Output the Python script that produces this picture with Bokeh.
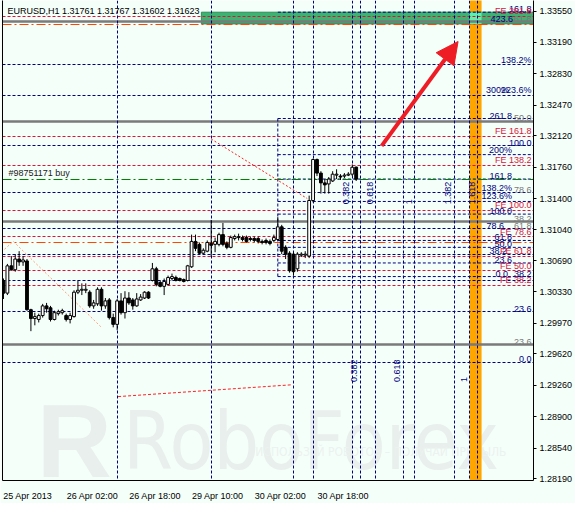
import math
from bokeh.plotting import figure
from bokeh.models import (ColumnDataSource, FixedTicker, LinearAxis, Range1d,
                          Arrow, NormalHead, Label, PrintfTickFormatter)
from bokeh.embed import file_html
from bokeh.resources import INLINE
from bokeh.core.properties import value

# ---------------- data ----------------
opens = [1.30461, 1.30316, 1.30629, 1.30584, 1.30707, 1.30674, 1.30685, 1.30126, 1.30025, 1.30014,
         1.30059, 1.30170, 1.30148, 1.30014, 1.30081, 1.30092, 1.30059, 1.30014, 1.30047, 1.30327,
         1.30349, 1.30349, 1.30327, 1.30170, 1.30193, 1.30360, 1.30170, 1.30238, 1.30036, 1.29958,
         1.30227, 1.30092, 1.30260, 1.30238, 1.30170, 1.30238, 1.30260, 1.30327, 1.30461, 1.30595,
         1.30439, 1.30394, 1.30416, 1.30484, 1.30495, 1.30484, 1.30472, 1.30461, 1.30618, 1.30909,
         1.30875, 1.30774, 1.30797, 1.30886, 1.30875, 1.30875, 1.30987, 1.30886, 1.30841, 1.30942,
         1.30953, 1.30953, 1.30953, 1.30942, 1.30942, 1.30942, 1.30909, 1.30920, 1.30909, 1.30920,
         1.30931, 1.31076, 1.30841, 1.30774, 1.30763, 1.30595, 1.30752, 1.30752, 1.30741, 1.31378,
         1.31848, 1.31692, 1.31580, 1.31568, 1.31602, 1.31669, 1.31658, 1.31658, 1.31669, 1.31680,
         1.31761]
highs = [1.30484, 1.30651, 1.30741, 1.30763, 1.30797, 1.30741, 1.30707, 1.30137, 1.30092, 1.30081,
         1.30193, 1.30204, 1.30170, 1.30115, 1.30126, 1.30137, 1.30081, 1.30092, 1.30349, 1.30461,
         1.30428, 1.30428, 1.30349, 1.30238, 1.30383, 1.30383, 1.30260, 1.30260, 1.30081, 1.30249,
         1.30316, 1.30338, 1.30327, 1.30260, 1.30316, 1.30305, 1.30338, 1.30338, 1.30662, 1.30618,
         1.30461, 1.30484, 1.30517, 1.30540, 1.30517, 1.30495, 1.30484, 1.30640, 1.30987, 1.30987,
         1.30897, 1.30830, 1.30920, 1.31155, 1.30953, 1.31009, 1.31121, 1.30909, 1.30976, 1.30987,
         1.30998, 1.30976, 1.30976, 1.30964, 1.30964, 1.30964, 1.30931, 1.30942, 1.30931, 1.30987,
         1.31188, 1.31099, 1.30864, 1.30797, 1.30785, 1.30785, 1.30785, 1.30797, 1.31434, 1.31859,
         1.31859, 1.31714, 1.31624, 1.31647, 1.31714, 1.31736, 1.31680, 1.31692, 1.31703, 1.31792,
         1.31767]
lows = [1.30249, 1.30294, 1.30573, 1.30562, 1.30629, 1.30629, 1.30115, 1.29880, 1.29947, 1.29980,
        1.30036, 1.30092, 1.29991, 1.30003, 1.30059, 1.30070, 1.29991, 1.29969, 1.30036, 1.30305,
        1.30294, 1.30316, 1.30148, 1.30137, 1.30170, 1.30115, 1.30137, 1.30014, 1.29924, 1.29891,
        1.30070, 1.30025, 1.30182, 1.30126, 1.30159, 1.30227, 1.30249, 1.30249, 1.30450, 1.30394,
        1.30383, 1.30294, 1.30405, 1.30461, 1.30450, 1.30450, 1.30439, 1.30450, 1.30606, 1.30797,
        1.30763, 1.30763, 1.30785, 1.30730, 1.30785, 1.30853, 1.30853, 1.30819, 1.30830, 1.30920,
        1.30920, 1.30909, 1.30897, 1.30909, 1.30897, 1.30886, 1.30875, 1.30875, 1.30864, 1.30897,
        1.30920, 1.30763, 1.30707, 1.30551, 1.30517, 1.30562, 1.30730, 1.30718, 1.30718, 1.31356,
        1.31658, 1.31457, 1.31457, 1.31457, 1.31591, 1.31624, 1.31613, 1.31636, 1.31658, 1.31658,
        1.31602]
closes = [1.30316, 1.30629, 1.30584, 1.30707, 1.30674, 1.30696, 1.30126, 1.30025, 1.30047, 1.30059,
          1.30170, 1.30137, 1.30014, 1.30092, 1.30103, 1.30115, 1.30014, 1.30059, 1.30327, 1.30349,
          1.30360, 1.30360, 1.30170, 1.30204, 1.30360, 1.30170, 1.30227, 1.30036, 1.29958, 1.30227,
          1.30092, 1.30260, 1.30204, 1.30170, 1.30249, 1.30271, 1.30327, 1.30260, 1.30595, 1.30416,
          1.30394, 1.30450, 1.30495, 1.30506, 1.30461, 1.30461, 1.30450, 1.30629, 1.30909, 1.30830,
          1.30774, 1.30808, 1.30897, 1.30864, 1.30909, 1.30987, 1.30875, 1.30841, 1.30953, 1.30964,
          1.30964, 1.30931, 1.30909, 1.30931, 1.30920, 1.30909, 1.30897, 1.30897, 1.30886, 1.30953,
          1.31076, 1.30797, 1.30763, 1.30573, 1.30562, 1.30763, 1.30763, 1.30763, 1.31378, 1.31848,
          1.31692, 1.31580, 1.31557, 1.31624, 1.31680, 1.31680, 1.31647, 1.31669, 1.31680, 1.31759,
          1.31623]

x_tick_bars = [0, 16, 32, 48, 64, 80]
x_tick_labels = ["25 Apr 2013", "26 Apr 02:00", "26 Apr 18:00", "29 Apr 10:00",
                 "30 Apr 02:00", "30 Apr 18:00"]
price_ticks = [1.3355, 1.3319, 1.3283, 1.3247, 1.3212, 1.3176, 1.3140, 1.3104,
               1.3069, 1.3033, 1.2997, 1.2962, 1.2926, 1.2890, 1.2854, 1.2819]
current_price = 1.31623
title_text = "EURUSD,H1  1.31761 1.31767 1.31602 1.31623"

fe_levels = [1.33492, 1.32116, 1.31781, 1.31267, 1.30964, 1.30741, 1.30573, 1.30405]
gray_levels = [1.33425, 1.32284, 1.31132, 1.29723]
orange_levels = [1.33397, 1.30897]
navy_full_levels = [1.32936, 1.32586, 1.32005, 1.31468, 1.31054, 1.30763, 1.30461, 1.30103, 1.29522]
navy_ray_levels = [1.33537, 1.32318, 1.31904, 1.31624, 1.31367, 1.31222, 1.30920, 1.30841, 1.30662, 1.30506]
ray_start_bar = 70
order_level = 1.31620
order_text = "#98751171 buy"
time_lines = [29, 53, 74, 79, 89, 91, 95, 102, 105, 115, 119, 121]

# Fibonacci time-zone labels
tz_upper_text = ["0.382", "0.618", "1", "1.382", "1.618"]
tz_upper_bar = [89, 95, 105, 115, 121]
tz_upper_level = 1.31334
tz_lower_text = ["0.382", "0.618", "1"]
tz_lower_bar = [91, 102, 119]
tz_lower_level = 1.29298

# level labels: text, level, colour key, right edge (bar units)
level_labels = [
    ("161.8", 1.33537, "n", 134.75), ("FE 261.8", 1.33492, "r", 134.75),
    ("423.6", 1.33425, "n", 130.0), ("61.8", 1.33425, "g", 134.75),
    ("138.2%", 1.32936, "n", 134.75), ("300%", 1.32586, "n", 129.0),
    ("223.6%", 1.32586, "n", 134.75), ("261.8", 1.32318, "n", 129.75),
    ("50.0", 1.32284, "g", 134.75), ("FE 161.8", 1.32116, "r", 134.75),
    ("100.0", 1.32005, "n", 134.75), ("200%", 1.31904, "n", 129.75),
    ("FE 138.2", 1.31781, "r", 134.75), ("161.8", 1.31624, "n", 129.75),
    ("138.2%", 1.31468, "n", 129.75), ("78.6", 1.31468, "g", 134.75),
    ("123.6%", 1.31367, "n", 129.75), ("FE 100.0", 1.31267, "r", 134.75),
    ("100.0", 1.31222, "n", 129.75), ("38.2", 1.31132, "g", 134.75),
    ("78.6", 1.31054, "n", 127.75), ("61.8", 1.31054, "g", 134.75),
    ("FE 78.6", 1.30964, "r", 134.75), ("61.8", 1.30920, "n", 129.75),
    ("50.0", 1.30841, "n", 129.75), ("38.2", 1.30763, "n", 128.5),
    ("FE 61.8", 1.30741, "r", 134.75), ("23.6", 1.30662, "n", 129.75),
    ("FE 50.0", 1.30573, "r", 134.75), ("0.0", 1.30506, "n", 128.75),
    ("38.2", 1.30506, "n", 134.75), ("FE 38.2", 1.30405, "r", 134.75),
    ("23.6", 1.30103, "n", 134.75), ("23.6", 1.29723, "g", 134.75),
    ("0.0", 1.29522, "n", 134.75),
]

# drawn objects (bar index, price)
green_zone = (50.5, 1.33403, 1.33537)
orange_zone = (119, 122)
salmon_line = ([0.25, 2.5, 25.0], [1.30819, 1.30909, 1.29924])
red_dotted_line = ([53.0, 77.5], [1.32083, 1.31401])
red_dashed_line = ([29.25, 73.5], [1.29130, 1.29265])
arrow_pts = (96.5, 1.32005, 116.0, 1.33201)
watermark_pos = (30.5, 1.28620)
logo_pos = (8.5, 1.28620)
tagline_pos = (64.25, 1.28490)

# ---------------- styles ----------------
BG = "#F5FFFA"
NAVY = "#000080"
CRIMSON = "#DC143C"
GRAY = "#7A7A7A"
COLORS = {"n": NAVY, "r": CRIMSON, "g": GRAY}
FONT = value("Liberation Sans")
WM = "#E8EFEC"

X0, X1 = -0.25, 135.25
Y0, Y1 = 1.28168, 1.33671

p = figure(width=575, height=503, x_range=Range1d(X0, X1), y_range=Range1d(Y0, Y1),
           output_backend="svg", toolbar_location=None, y_axis_location="right",
           background_fill_color=BG, border_fill_color=BG,
           min_border_left=2, min_border_right=39, min_border_top=0, min_border_bottom=18)
p.grid.visible = False
p.outline_line_color = None

# watermark
narrow = value("'Liberation Sans Narrow', 'DejaVu Sans Condensed', 'Liberation Sans', sans-serif")
p.text(x=[logo_pos[0]], y=[logo_pos[1]], text=["R"], text_font=value("Liberation Sans"),
       text_font_style="bold", text_font_size="104px", text_color=WM, text_baseline="alphabetic")
p.text(x=[watermark_pos[0]], y=[watermark_pos[1]], text=["RoboForex"], text_font=narrow,
       text_font_size="80px", text_color=WM, text_baseline="alphabetic")
p.text(x=[tagline_pos[0]], y=[tagline_pos[1]], text=["ИСПОЛЬЗУЙ РОБОТОВ – ПОЛУЧАЙ ПРИБЫЛЬ"],
       text_font=narrow, text_font_size="12px", text_color="#EBF2EF", text_baseline="alphabetic")

# zones
p.quad(left=[orange_zone[0]], right=[orange_zone[1]], bottom=[Y0 - 1], top=[Y1 + 1],
       fill_color="#FFA500", line_color=None)
p.quad(left=[green_zone[0]], right=[X1 + 5], bottom=[green_zone[1]], top=[green_zone[2]],
       fill_color="#3CB371", line_color="#2E8B57", line_width=1)
p.quad(left=[orange_zone[0]], right=[orange_zone[1]], bottom=[green_zone[1]], top=[green_zone[2]],
       fill_color="#5CF0A8", line_color=None)

# horizontal levels
p.hspan(y=gray_levels, line_color=GRAY, line_width=2.5)
p.hspan(y=navy_full_levels, line_color=NAVY, line_dash="3 2", line_width=1)
p.hspan(y=fe_levels, line_color=CRIMSON, line_dash="3 2", line_width=1)
p.hspan(y=orange_levels, line_color="#FF4500", line_dash="9 3 2 3", line_width=1.2)
p.segment(x0=[ray_start_bar] * len(navy_ray_levels), x1=[X1 + 5] * len(navy_ray_levels),
          y0=navy_ray_levels, y1=navy_ray_levels, line_color=NAVY, line_dash="3 2", line_width=1)
p.segment(x0=[ray_start_bar], x1=[ray_start_bar], y0=[max(navy_ray_levels[1:])],
          y1=[min(navy_ray_levels)], line_color=NAVY, line_dash="3 2", line_width=1)
p.hspan(y=[order_level], line_color="#008000", line_dash="9 3 2 3", line_width=1.2)

# vertical time lines
p.vspan(x=time_lines, line_color=NAVY, line_dash="3 2", line_width=1)

# drawn trend lines
p.line(salmon_line[0], salmon_line[1], line_color="#FFA07A", line_dash="2 2", line_width=1)
p.line(red_dotted_line[0], red_dotted_line[1], line_color="#FF2020", line_dash="2 2", line_width=1)
p.line(red_dashed_line[0], red_dashed_line[1], line_color="#FF2020", line_dash="3 2", line_width=1)

# candles
idx = list(range(len(opens)))
src = ColumnDataSource(dict(
    x=idx, o=opens, h=highs, l=lows, c=closes,
    top=[max(o, c) for o, c in zip(opens, closes)],
    bot=[min(o, c) for o, c in zip(opens, closes)],
    fill=["white" if c >= o else "black" for o, c in zip(opens, closes)],
))
p.segment(x0="x", x1="x", y0="h", y1="l", source=src, line_color="black", line_width=1)
p.vbar(x="x", width=0.72, top="top", bottom="bot", fill_color="fill", line_color="black",
       line_width=1, source=src)

# level labels
for txt, lvl, ck, rx in level_labels:
    p.text(x=[rx], y=[lvl], text=[txt], text_font=FONT, text_font_size="9px",
           text_color=COLORS[ck], text_align="right", text_baseline="bottom")

# time zone labels (rotated)
p.text(x=tz_upper_bar, y=[tz_upper_level] * len(tz_upper_bar), text=tz_upper_text,
       angle=math.pi / 2, text_font=FONT, text_font_size="9px", text_color=NAVY,
       text_align="left", text_baseline="bottom", x_offset=-3)
p.text(x=tz_lower_bar, y=[tz_lower_level] * len(tz_lower_bar), text=tz_lower_text,
       angle=math.pi / 2, text_font=FONT, text_font_size="9px", text_color=NAVY,
       text_align="left", text_baseline="bottom", x_offset=-3)

# order label and title
p.text(x=[1.25], y=[order_level], text=[order_text], text_font=FONT, text_font_size="9px",
       text_color="#202020", text_baseline="bottom", y_offset=-1)
p.text(x=[1.0], y=[1.33548], text=[title_text], text_font=FONT, text_font_size="9px",
       text_color="black", text_baseline="middle")

# arrow
p.add_layout(Arrow(end=NormalHead(size=22, fill_color="#EE1C25", line_color="#EE1C25"),
                   x_start=arrow_pts[0], y_start=arrow_pts[1], x_end=arrow_pts[2], y_end=arrow_pts[3],
                   line_color="#EE1C25", line_width=4))

# axes
ya = p.yaxis[0]
ya.ticker = FixedTicker(ticks=price_ticks)
ya.formatter = PrintfTickFormatter(format="%.5f")
ya.major_tick_out = 3
ya.major_tick_in = 0
ya.minor_tick_line_color = None
ya.major_label_standoff = 3
ya.major_label_text_font = "Liberation Sans"
ya.major_label_text_font_size = "9px"
ya.major_label_text_color = "black"
ya.axis_line_color = "black"

xa = p.xaxis[0]
xa.ticker = FixedTicker(ticks=[])
xa.major_tick_line_color = None
xa.minor_tick_line_color = None
xa.major_label_text_font_size = "0px"
xa.major_label_standoff = 0
xa.axis_line_color = "black"

half_widths = [6.2, 6.7, 6.7, 6.7, 6.7, 6.7]
centers = [round(b + w, 2) for b, w in zip(x_tick_bars, half_widths)]
xb = LinearAxis(ticker=FixedTicker(ticks=centers),
                major_label_overrides={c: t for c, t in zip(centers, x_tick_labels)},
                axis_line_color=None, major_tick_line_color=None, minor_tick_line_color=None,
                major_label_standoff=4, major_label_text_font="Liberation Sans",
                major_label_text_font_size="9px", major_label_text_color="black")
p.add_layout(xb, "below")

la = LinearAxis(ticker=FixedTicker(ticks=[]), axis_line_color="black",
                major_tick_line_color=None, minor_tick_line_color=None,
                major_label_text_font_size="0px", major_label_standoff=0)
p.add_layout(la, "left")

# current price marker on the axis
p.add_layout(Label(x=X1, y=current_price, x_offset=2, text="1.31623", text_color="white",
                   text_font="Liberation Sans", text_font_size="9px", text_baseline="middle",
                   text_align="left", background_fill_color="black", padding=2))

open("out.html", "w").write(file_html(p, INLINE))
